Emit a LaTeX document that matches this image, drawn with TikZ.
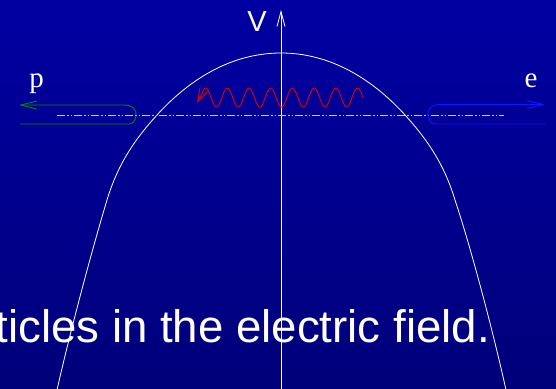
\documentclass[tikz,border=0pt]{standalone}
\usepackage{fontspec}
\setmainfont{Liberation Serif}
\setsansfont{Liberation Sans}
\usetikzlibrary{arrows.meta}
\definecolor{bgtop}{RGB}{0,0,162}
\definecolor{bgbot}{RGB}{0,0,122}
\definecolor{ptrack}{RGB}{0,140,0}
\definecolor{etrack}{RGB}{20,20,255}
\definecolor{wave}{RGB}{225,0,0}
\definecolor{dashc}{RGB}{200,200,255}
\tikzset{
  track/.style={line width=0.9pt},
  lbl/.style={text=white, inner sep=0pt, anchor=base},
}
\begin{document}
\begin{tikzpicture}[x=1pt,y=-1pt]
\useasboundingbox (0,0) rectangle (556,388);
\clip (0,0) rectangle (556,388);
\shade[top color=bgtop, bottom color=bgbot] (0,0) rectangle (556,388);
% main text
\node[lbl, anchor=base east, font=\sffamily\fontsize{45.6}{54}\selectfont] (txt) at (490,342) {ticles in the electric field.};
% potential curve
\draw[white, line width=0.8pt] (57,390)
  .. controls (70.2,331.2) and (92.5,248) .. (107,200)
  .. controls (118.6,161.6) and (136.9,137.2) .. (157,115)
  .. controls (183.8,85.4) and (226,53) .. (281,53)
  .. controls (336,53) and (378.2,85.4) .. (405,115)
  .. controls (425.1,137.2) and (443.4,161.6) .. (455,200)
  .. controls (471,248) and (493,331.2) .. (506,390);
% axis
\coordinate (axb) at (281,390);
\coordinate (axt) at (281,10);
\draw[white, line width=0.8pt, -{Straight Barb[length=15pt,width=8pt]}] (axb) -- (axt);
\node[lbl, font=\sffamily\fontsize{29}{34}\selectfont] (V) at (257,31) {V};
% dash-dot line
\coordinate (dl) at (57,115);
\coordinate (dr) at (504,115);
\draw[dashc, line width=1pt, dash pattern=on 8pt off 2pt on 1.5pt off 2pt on 1.5pt off 2pt] (dl) -- (dr);
% proton track
\coordinate (pt) at (19,105);
\coordinate (pb) at (20,124);
\draw[ptrack, track, {Straight Barb[length=16pt,width=8pt]}-] (pt) -- (124,105)
  .. controls (133,105) and (137,110) .. (136,116)
  .. controls (135,121) and (133,124) .. (129,124) -- (pb);
\node[lbl, font=\fontsize{29}{34}\selectfont] (p) at (36.5,87) {p};
% electron track
\coordinate (et) at (545,104.5);
\coordinate (eb) at (545,124);
\draw[etrack, track, {Straight Barb[length=16pt,width=8pt]}-] (et) -- (440,104.5)
  .. controls (431,104.5) and (427,110) .. (428,115)
  .. controls (429,121) and (431,124) .. (436,124) -- (eb);
\node[lbl, font=\fontsize{29}{34}\selectfont] (e) at (531,87) {e};
% photon wave
\coordinate (wt) at (197,103);
\draw[wave, line width=0.9pt, {Straight Barb[length=13pt,width=8pt]}-] (wt) --
  plot[domain=204:363, samples=220, smooth] (\x, {97.5 - 9.5*cos(((\x-357.5)/21.7)*360)});
\end{tikzpicture}
\end{document}
